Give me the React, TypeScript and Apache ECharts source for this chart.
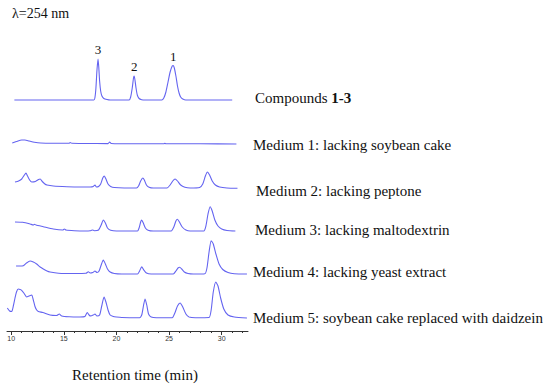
import React, { useEffect, useRef } from "react";
import * as echarts from "echarts";

// Retention time (min) / relative absorbance (arbitrary units)
const compounds: [number, number][] = [
  [10.3, 0], [17.85, 0], [17.95, 2], [18.05, 12], [18.15, 30], [18.25, 41], [18.32, 33], [18.4, 19], [18.5, 9], [18.62, 4], [18.8, 1.5], [19.1, 0.5], [19.4, 0],
  [21.2, 0], [21.35, 3], [21.5, 12], [21.62, 22], [21.68, 24], [21.76, 20], [21.86, 12], [21.98, 5], [22.15, 1.5], [22.4, 0.3], [22.7, 0],
  [24.3, 0], [24.5, 2], [24.7, 8], [24.9, 18], [25.1, 28], [25.3, 34], [25.4, 34.5], [25.5, 32], [25.65, 24], [25.8, 14], [25.95, 7], [26.1, 3], [26.3, 1], [26.6, 0], [31.0, 0],
];
const medium1: [number, number][] = [
  [10.1, 1], [10.5, 2.5], [11.0, 4], [11.3, 4], [11.7, 3], [12.2, 1.8], [12.8, 1], [14, 0.8], [15.5, 0.8], [15.6, 1.5], [15.75, 0.7], [17, 0.5],
  [19.2, 0.4], [19.35, 2], [19.5, 0.5], [22, 0.2], [24.5, 0.3], [24.6, 0.8], [24.7, 0.2], [28, 0.2], [31.4, 0],
];
const medium2: [number, number][] = [
  [10.36, 6], [10.7, 7], [11.0, 9], [11.25, 13], [11.4, 15], [11.55, 12], [11.75, 8], [11.95, 6], [12.3, 6.5], [12.6, 8.5], [12.75, 9], [12.95, 6.5], [13.2, 4], [13.4, 3],
  [14.0, 2], [15.3, 1.3], [16.5, 1], [17.5, 1], [17.8, 1.5], [17.96, 3], [18.1, 1], [18.3, 1.5], [18.5, 4], [18.7, 10], [18.85, 12], [19.0, 9], [19.2, 4], [19.45, 1.5], [19.8, 0.5],
  [21.9, 0], [22.1, 2], [22.3, 7], [22.5, 10], [22.65, 8], [22.85, 3], [23.1, 0.8], [23.5, 0],
  [24.8, 0], [25.1, 3], [25.35, 7], [25.57, 9], [25.8, 7], [26.1, 3], [26.5, 0.8], [27.0, 0],
  [27.9, 0.5], [28.2, 4], [28.45, 12], [28.64, 16], [28.85, 13], [29.1, 7], [29.4, 3], [29.8, 1], [30.5, 0], [31.5, -0.3],
];
const medium3: [number, number][] = [
  [10.36, 9], [11.1, 8.7], [11.8, 7], [12.1, 6], [12.2, 6.8], [12.35, 6], [13.05, 4.3], [14.0, 2], [14.9, 1], [15.05, 2], [15.2, 1], [16.0, 0.3], [17.0, 0],
  [17.5, 0.2], [17.7, 1], [17.9, 0.3], [18.3, 1], [18.55, 6], [18.75, 11], [18.95, 8], [19.15, 3], [19.45, 0.8], [20, 0],
  [22.0, 0], [22.15, 3], [22.3, 9], [22.4, 11], [22.55, 8], [22.75, 3], [23.0, 0.8], [23.5, 0],
  [25.2, 0], [25.45, 4], [25.65, 10], [25.8, 11.7], [25.98, 9], [26.25, 4], [26.6, 1], [27.0, 0],
  [28.3, 0], [28.5, 5], [28.7, 17], [28.9, 24.3], [29.1, 20], [29.35, 11], [29.65, 5], [30.0, 2], [30.5, 0.5], [31.3, 0],
];
const medium4: [number, number][] = [
  [10.46, 8], [10.8, 8], [11.15, 8.3], [11.45, 11], [11.79, 13], [12.1, 12], [12.42, 10], [12.75, 7], [13.05, 5], [13.4, 3], [13.69, 2], [14.5, 0.8], [16.0, 0.5],
  [17.1, 0.7], [17.33, 2.3], [17.5, 1], [17.75, 1.5], [17.96, 3], [18.15, 1.5], [18.35, 3], [18.55, 9], [18.75, 14], [18.95, 10], [19.15, 5], [19.4, 2], [19.8, 0.5], [20.5, 0],
  [22.0, 0], [22.2, 3], [22.4, 7.3], [22.6, 4], [22.85, 1], [23.3, 0],
  [25.4, 0], [25.65, 3], [25.85, 6], [26.0, 6.7], [26.2, 5], [26.45, 2], [26.8, 0.5], [27.3, 0],
  [28.4, 0.3], [28.6, 6], [28.8, 22], [29.0, 33.3], [29.2, 30], [29.45, 20], [29.75, 10], [30.1, 4.5], [30.6, 1.5], [31.2, 0.3], [32.4, 0],
];
const medium5: [number, number][] = [
  [9.63, 10], [9.85, 7], [10.05, 6.5], [10.2, 12], [10.36, 20], [10.5, 26], [10.67, 29], [10.85, 28.5], [10.99, 27.7], [11.2, 25], [11.47, 21], [11.7, 22], [11.95, 23],
  [12.1, 18], [12.26, 11.5], [12.42, 8], [12.58, 6.5], [13.0, 5.5], [13.69, 3], [14.3, 2.5], [14.57, 4], [14.8, 2], [15.5, 1.2], [16.5, 1],
  [17.0, 1.5], [17.23, 5.5], [17.4, 3], [17.55, 2], [17.8, 3], [17.96, 4], [18.15, 2], [18.4, 3], [18.6, 12], [18.82, 21], [19.0, 16], [19.2, 8], [19.4, 3], [19.7, 1.5], [20.0, 1], [20.5, 0.5],
  [22.2, 0.3], [22.4, 3], [22.58, 13], [22.72, 19], [22.88, 13], [23.05, 4], [23.3, 1], [23.8, 0.3],
  [25.3, 0.3], [25.55, 5], [25.8, 12], [26.05, 15], [26.3, 11], [26.6, 4], [26.9, 1], [27.5, 0.3],
  [28.8, 0.5], [29.0, 8], [29.2, 26], [29.44, 36], [29.65, 32], [29.9, 20], [30.2, 9], [30.6, 3], [31.2, 1], [32.4, 0],
];

const traces = [compounds, medium1, medium2, medium3, medium4, medium5];
const traceNames = [
  "Compounds 1-3",
  "Medium 1: lacking soybean cake",
  "Medium 2: lacking peptone",
  "Medium 3: lacking maltodextrin",
  "Medium 4: lacking yeast extract",
  "Medium 5: soybean cake replaced with daidzein",
];
const majorTicks = [10, 15, 20, 25, 30];
const minorTicks = [10, 11, 12, 13, 14, 15, 16, 17, 18, 19, 20, 21, 22, 23, 24, 25, 26, 27, 28, 29, 30, 31, 32];
const peakLabels = ["3", "2", "1"];
const peakTimes = [18.25, 21.68, 25.4];

// vertical stacking offsets of the traces (layout)
const offsets = [231, 187, 143, 100, 57, 13];
const labelPos: [number, number][] = [
  [255, 98], [253, 145], [256, 191], [255, 230], [253, 272], [253, 318],
];

const SERIF = "'Liberation Serif', 'Times New Roman', serif";
const LINE = "#6464f0";

export default function App() {
  const ref = useRef<HTMLDivElement>(null);
  useEffect(() => {
    if (!ref.current) return;
    const chart = echarts.init(ref.current, undefined, { renderer: "svg" });
    const series: any[] = traces.map((tr, i) => ({
      type: "line",
      name: traceNames[i],
      data: tr.map((p) => [p[0], offsets[i] + p[1]]),
      showSymbol: false,
      smooth: 0.2,
      lineStyle: { color: LINE, width: 1.1 },
      xAxisIndex: 0,
      yAxisIndex: 0,
      silent: true,
    }));
    // peak number labels on compounds trace
    series[0].markPoint = {
      symbol: "circle",
      symbolSize: 0,
      silent: true,
      data: peakLabels.map((l, k) => {
        const near = compounds.reduce((a, b) => (Math.abs(b[0] - peakTimes[k]) < Math.abs(a[0] - peakTimes[k]) ? b : a));
        return {
          coord: [peakTimes[k], offsets[0] + near[1]],
          label: { show: true, formatter: l, position: "top", distance: 3, color: "#111", fontFamily: SERIF, fontSize: 13 },
        };
      }),
    };
    const graphics: any[] = [
      { type: "text", left: 12, top: 6, style: { text: "λ=254 nm", font: `14px ${SERIF}`, fill: "#111" } },
      {
        type: "text", x: 135, y: 375,
        style: { text: "Retention time (min)", font: `15px ${SERIF}`, fill: "#111", align: "center", verticalAlign: "middle" },
      },
    ];
    traceNames.forEach((n, i) => {
      if (i === 0) {
        graphics.push({
          type: "text", x: labelPos[i][0], y: labelPos[i][1],
          style: {
            text: "{n|Compounds }{b|1-3}",
            font: `15px ${SERIF}`,
            fill: "#111",
            verticalAlign: "middle",
            rich: {
              n: { font: `15px ${SERIF}`, fill: "#111" },
              b: { font: `bold 15px ${SERIF}`, fill: "#111" },
            },
          },
        });
      } else {
        graphics.push({
          type: "text", x: labelPos[i][0], y: labelPos[i][1],
          style: { text: n, font: `15px ${SERIF}`, fill: "#111", verticalAlign: "middle" },
        });
      }
    });
    chart.setOption({
      animation: false,
      grid: { left: 7, right: 302, top: 0, bottom: 56 },
      xAxis: [
        {
          type: "value", min: 9.6, max: 32.5,
          axisLine: { show: true, lineStyle: { color: "#333", width: 1 } },
          axisTick: { show: true, customValues: majorTicks, length: 4, lineStyle: { color: "#333" } },
          axisLabel: { show: true, customValues: majorTicks, fontSize: 7, color: "#333", margin: 4, fontFamily: "'Liberation Sans', Arial, sans-serif" },
          splitLine: { show: false },
        },
        {
          type: "value", min: 9.6, max: 32.5, position: "bottom",
          axisLine: { show: false },
          axisTick: { show: true, customValues: minorTicks, length: 2, lineStyle: { color: "#333" } },
          axisLabel: { show: false },
          splitLine: { show: false },
        },
      ],
      yAxis: { type: "value", min: 0, max: 331, show: false, splitLine: { show: false } },
      series,
      graphic: graphics,
    });
    return () => chart.dispose();
  }, []);
  return (
    <div
      ref={ref}
      style={{ position: "fixed", left: 0, top: 0, width: 550, height: 387, background: "#fff" }}
    />
  );
}
